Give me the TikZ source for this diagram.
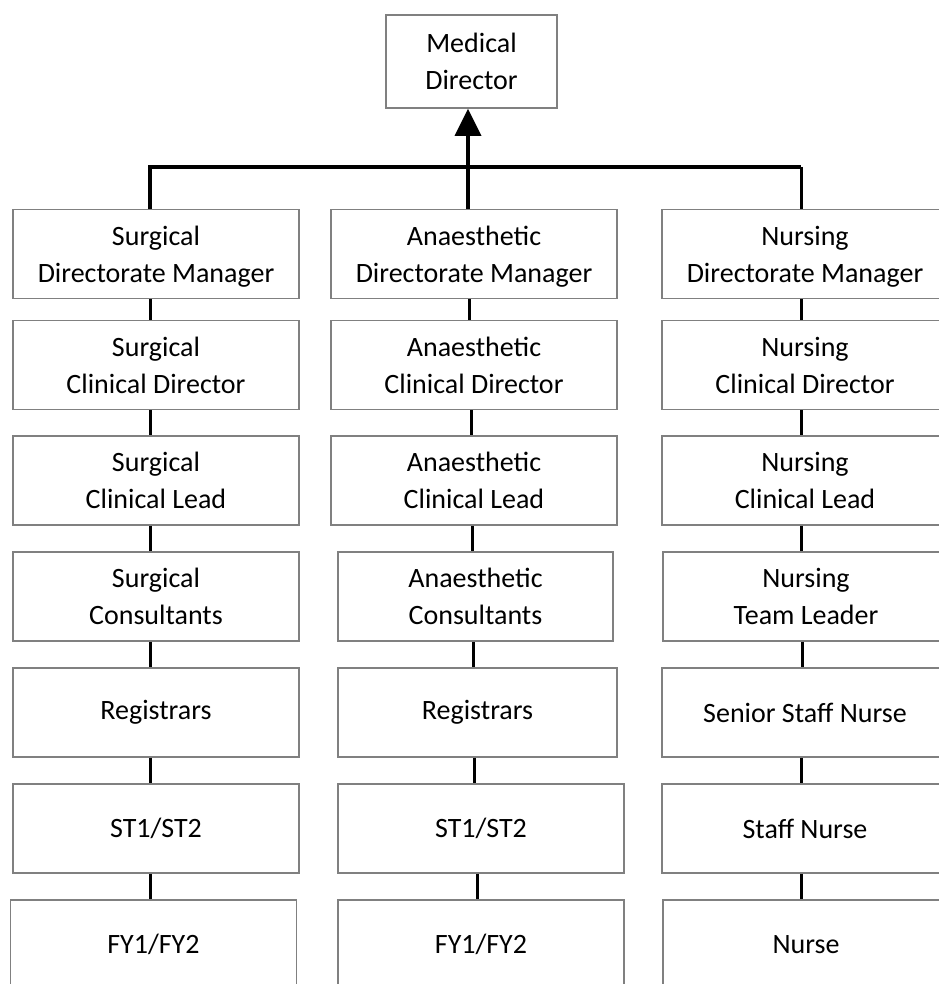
\documentclass[tikz,border=0pt]{standalone}
\usepackage{fontspec}
\setmainfont{Carlito}
\usetikzlibrary{arrows.meta}
\begin{document}
\begin{tikzpicture}[x=1pt,y=-1pt,
  box/.style={draw=black!50,line width=1.6pt,fill=white,minimum width=286pt,minimum height=89pt,
    align=center,font=\fontsize{28}{37}\selectfont,inner sep=0pt},
  two/.style={text depth=0pt},
  link/.style={draw=black,line width=3pt},
  trunk/.style={draw=black,line width=3.6pt}]
\useasboundingbox (0,0) rectangle (938,984);
% top
\node[box,two,minimum width=171pt,minimum height=93pt] (md) at (471.5,61.5) {Medical\\Director};
% rows
\def\ya{254}\def\yb{365}\def\yc{480.5}\def\yd{596.5}\def\ye{712.5}\def\yf{828.5}\def\yg{944.5}
% surgical column
\node[box,two] (s1) at (156,\ya) {Surgical\\Directorate Manager};
\node[box,two] (s2) at (156,\yb) {Surgical\\Clinical Director};
\node[box,two] (s3) at (156,\yc) {Surgical\\Clinical Lead};
\node[box,two] (s4) at (156,\yd) {Surgical\\Consultants};
\node[box] (s5) at (156,\ye) {Registrars};
\node[box] (s6) at (156,\yf) {ST1/ST2};
\node[box] (s7) at (153.5,\yg) {FY1/FY2};
% anaesthetic column
\node[box,two] (a1) at (474,\ya) {Anaesthetic\\Directorate Manager};
\node[box,two] (a2) at (474,\yb) {Anaesthetic\\Clinical Director};
\node[box,two] (a3) at (474,\yc) {Anaesthetic\\Clinical Lead};
\node[box,two,minimum width=275pt] (a4) at (475.5,\yd) {Anaesthetic\\Consultants};
\node[box,minimum width=279pt] (a5) at (477.5,\ye) {Registrars};
\node[box,minimum width=286pt] (a6) at (481,\yf) {ST1/ST2};
\node[box,minimum width=286pt] (a7) at (481,\yg) {FY1/FY2};
% nursing column
\node[box,two] (n1) at (805,\ya) {Nursing\\Directorate Manager};
\node[box,two] (n2) at (805,\yb) {Nursing\\Clinical Director};
\node[box,two] (n3) at (805,\yc) {Nursing\\Clinical Lead};
\node[box,two] (n4) at (806,\yd) {Nursing\\Team Leader};
\node[box] (n5) at (805,\ye) {Senior Staff Nurse};
\node[box] (n6) at (805,\yf) {Staff Nurse};
\node[box] (n7) at (806,\yg) {Nurse};
% top connectors
\coordinate (jL) at (150,167);
\coordinate (jM) at (468,167);
\coordinate (jR) at (801,167);
\draw[trunk] ([xshift=-6pt]s1.north) -- (jL) -- (jR);
\draw[link] (jR) -- ([xshift=-4pt]n1.north);
\draw[trunk] ([xshift=-6pt]a1.north) -- (jM);
\draw[trunk,-{Triangle[length=27pt,width=26pt]}] (jM) -- (jM |- md.south);
% column connectors
\foreach \i/\j in {1/2,2/3,3/4,4/5,5/6,6/7}{
  \draw[link] ([xshift=-6pt]s\i.south) -- ([xshift=-6pt]s\i.south |- s\j.north);
  \draw[link] ([xshift=-4pt]n\i.south) -- ([xshift=-4pt]n\i.south |- n\j.north);
}
\draw[link] ([xshift=-5pt]a1.south) -- ([xshift=-5pt]a1.south |- a2.north);
\draw[link] ([xshift=-3pt]a2.south) -- ([xshift=-3pt]a2.south |- a3.north);
\draw[link] ([xshift=-2pt]a3.south) -- ([xshift=-2pt]a3.south |- a4.north);
\draw[link] ([xshift=-2pt]a4.south) -- ([xshift=-2pt]a4.south |- a5.north);
\draw[link] ([xshift=-3pt]a5.south) -- ([xshift=-3pt]a5.south |- a6.north);
\draw[link] ([xshift=-4pt]a6.south) -- ([xshift=-4pt]a6.south |- a7.north);
\end{tikzpicture}
\end{document}
